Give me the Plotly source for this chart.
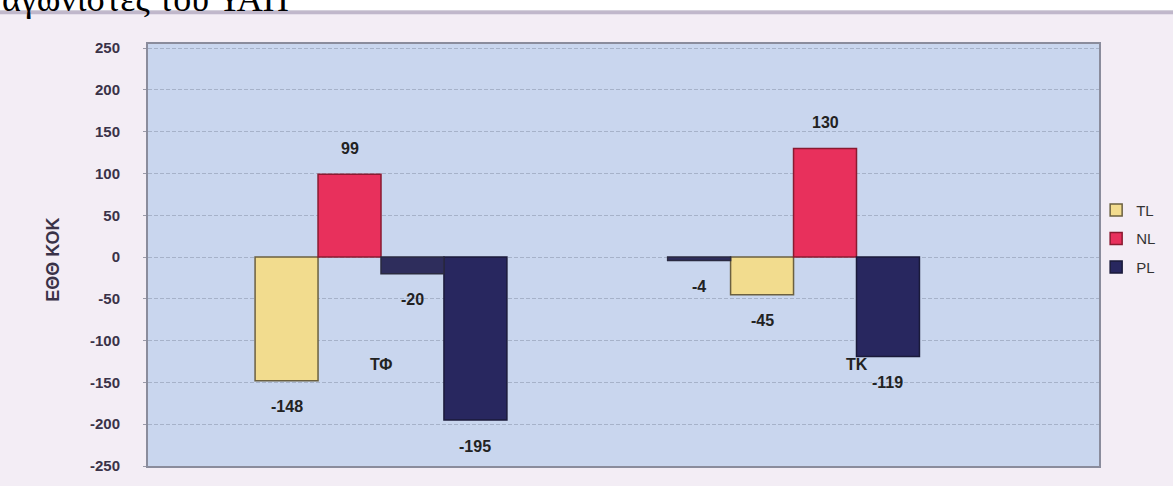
import plotly.graph_objects as go

# Values per group
categories = ["ΤΦ", "ΤΚ"]
tl_values = [-148, -45]
nl_values = [99, 130]
pl_values = [-195, -119]
other_values = [-20, -4]

y_ticks = [250, 200, 150, 100, 50, 0, -50, -100, -150, -200, -250]
y_tick_text = ["250", "200", "150", "100", "50", "0", "-50", "-100", "-150", "-200", "-250"]
y_title = "ΕΘΘ ΚΟΚ"
header_text = "αγωνιστές του ΥΑΠ"

# Bar geometry (in category units) and slot layout within each group
BAR_W = 0.1324
SHIFT = -0.01
slots = {
    "TL": [-2, -2],
    "NL": [-1, -1],
    "PL": [1, 0],
    "OL": [0, -3],
}

series = [
    ("TL", tl_values, "#F2DC8E", "#6b6040", True),
    ("NL", nl_values, "#E8305C", "#8a1a30", True),
    ("PL", pl_values, "#28275F", "#1a1a3a", True),
    ("OL", other_values, "#2E2D5C", "#2a2a40", False),
]

LABEL_FONT = dict(family="Liberation Sans", size=16, color="#222222", weight="bold")

fig = go.Figure()
annotations = []
for name, vals, color, edge, show in series:
    offs = [s * BAR_W + SHIFT for s in slots[name]]
    fig.add_trace(go.Bar(
        x=categories, y=vals, name=name, showlegend=show,
        legendgroup=name,
        width=BAR_W, offset=offs,
        marker=dict(color=color, line=dict(color=edge, width=1.5)),
    ))
    for i, (v, o) in enumerate(zip(vals, offs)):
        annotations.append(dict(
            x=i + o + BAR_W / 2, y=v, xref="x", yref="y",
            text=str(v), showarrow=False,
            yshift=26 if v > 0 else -26,
            font=LABEL_FONT,
        ))

# Group names drawn inside the plot area
for i, c in enumerate(categories):
    annotations.append(dict(
        x=i + SHIFT, y=-128, xref="x", yref="y", text=c, showarrow=False,
        font=LABEL_FONT,
    ))

# Vertical axis title
annotations.append(dict(
    x=-0.112, y=0.49, xref="paper", yref="paper", text=y_title, showarrow=False,
    textangle=-90,
    font=dict(family="Liberation Sans", size=18, color="#3a3248", weight="bold"),
))

# Heading line of the page above the chart
annotations.append(dict(
    x=-0.1555, y=1.055, xref="paper", yref="paper", text=header_text,
    showarrow=False, xanchor="left", yanchor="bottom",
    font=dict(family="Liberation Serif", size=36, color="#000000"),
))

fig.update_layout(
    width=1173, height=486,
    margin=dict(l=148, r=73, t=44, b=16),
    barmode="overlay",
    paper_bgcolor="#F3EDF5",
    plot_bgcolor="#C9D6EE",
    font=dict(family="Liberation Sans", color="#333333"),
    annotations=annotations,
    legend=dict(
        x=0.997, xanchor="left", y=0.645, yanchor="top",
        bgcolor="rgba(0,0,0,0)",
        font=dict(family="Liberation Sans", size=15, color="#333333"),
        traceorder="grouped", tracegroupgap=6,
    ),
    shapes=[
        dict(type="rect", xref="paper", yref="paper",
             x0=-0.2, x1=1.1, y0=(470 - 11) / 426, y1=1.2,
             fillcolor="#FFFFFF", line=dict(width=0), layer="below"),
        dict(type="line", xref="paper", yref="paper",
             x0=-0.2, x1=1.1, y0=(470 - 12) / 426, y1=(470 - 12) / 426,
             line=dict(color="rgba(150,138,168,0.55)", width=4)),
    ],
    showlegend=True,
)

fig.update_xaxes(
    type="category", range=[-0.5, 1.5],
    showticklabels=False, ticks="",
    showgrid=False, zeroline=False,
    showline=True, linecolor="#8a8c9c", linewidth=2, mirror=True,
)
fig.update_yaxes(
    range=[-250, 255], tickvals=y_ticks, ticktext=y_tick_text,
    ticks="outside", ticklen=3, tickcolor="#9a9aa8",
    ticklabelstandoff=20,
    tickfont=dict(family="Liberation Sans", size=15, color="#3a3248", weight="bold"),
    showgrid=True, gridcolor="rgba(120,128,150,0.42)", gridwidth=1, griddash="4px,2px",
    zeroline=False,
    showline=True, linecolor="#8a8c9c", linewidth=2, mirror=True,
)

fig.write_html("out.html")
